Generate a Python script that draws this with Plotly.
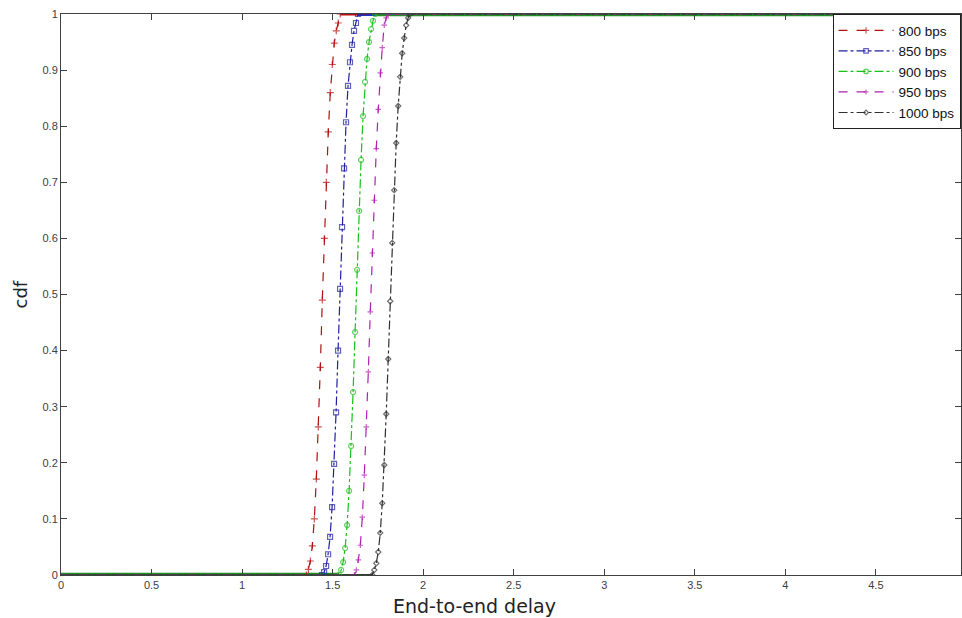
import plotly.graph_objects as go

# End-to-end delay (s) and CDF values
x_800 = [0.0, 1.355, 1.366, 1.377, 1.388, 1.399, 1.410, 1.421, 1.432, 1.443, 1.454, 1.465,
         1.476, 1.487, 1.498, 1.509, 1.520, 1.531, 1.542, 4.68]
y_800 = [0.0, 0.0, 0.010, 0.025, 0.052, 0.100, 0.171, 0.264, 0.370, 0.490, 0.600, 0.700,
         0.790, 0.860, 0.910, 0.948, 0.970, 0.984, 1.0, 1.0]

x_850 = [0.0, 1.442, 1.453, 1.464, 1.475, 1.486, 1.497, 1.508, 1.519, 1.530, 1.541, 1.552,
         1.563, 1.574, 1.585, 1.596, 1.607, 1.618, 1.629, 1.640, 4.68]
y_850 = [0.0, 0.0, 0.005, 0.016, 0.037, 0.068, 0.121, 0.198, 0.290, 0.400, 0.510, 0.620,
         0.725, 0.807, 0.872, 0.914, 0.945, 0.970, 0.984, 1.0, 1.0]

x_900 = [0.0, 1.536, 1.547, 1.558, 1.569, 1.580, 1.591, 1.602, 1.613, 1.624, 1.635, 1.646,
         1.657, 1.668, 1.679, 1.690, 1.701, 1.712, 1.723, 1.734, 4.68]
y_900 = [0.0, 0.0, 0.009, 0.023, 0.048, 0.089, 0.150, 0.230, 0.326, 0.433, 0.544, 0.649,
         0.740, 0.818, 0.879, 0.920, 0.950, 0.973, 0.988, 1.0, 1.0]

x_950 = [0.0, 1.620, 1.631, 1.642, 1.653, 1.664, 1.675, 1.686, 1.697, 1.708, 1.719, 1.730,
         1.741, 1.752, 1.763, 1.774, 1.785, 1.796, 1.807, 4.68]
y_950 = [0.0, 0.0, 0.009, 0.027, 0.053, 0.103, 0.178, 0.264, 0.362, 0.469, 0.574, 0.668,
         0.760, 0.830, 0.895, 0.940, 0.980, 0.993, 1.0, 1.0]

x_1000 = [0.0, 1.719, 1.730, 1.741, 1.752, 1.763, 1.774, 1.785, 1.796, 1.807, 1.818, 1.829,
          1.840, 1.851, 1.862, 1.873, 1.884, 1.895, 1.906, 1.917, 1.928, 4.68]
y_1000 = [0.0, 0.0, 0.009, 0.021, 0.041, 0.075, 0.128, 0.196, 0.287, 0.385, 0.488, 0.592,
          0.686, 0.770, 0.836, 0.888, 0.930, 0.957, 0.980, 0.993, 1.0, 1.0]

series_names = ["800 bps", "850 bps", "900 bps", "950 bps", "1000 bps"]
x_ticks = [0, 0.5, 1, 1.5, 2, 2.5, 3, 3.5, 4, 4.5]
x_tick_labels = ["0", "0.5", "1", "1.5", "2", "2.5", "3", "3.5", "4", "4.5"]
y_ticks = [0, 0.1, 0.2, 0.3, 0.4, 0.5, 0.6, 0.7, 0.8, 0.9, 1]
y_tick_labels = ["0", "0.1", "0.2", "0.3", "0.4", "0.5", "0.6", "0.7", "0.8", "0.9", "1"]

styles = [
    dict(color="#b01010", dash="dash", symbol="cross-thin-open", msize=5, band=3.0),
    dict(color="#2020a0", dash="dashdot", symbol="square-open", msize=5, band=4.0),
    dict(color="#18c018", dash="dashdot", symbol="circle-open", msize=5, band=4.5),
    dict(color="#b020b0", dash="dash", symbol="cross-thin-open", msize=4, band=2.0),
    dict(color="#303030", dash="dashdot", symbol="diamond-open", msize=4, band=1.8),
]
band_colors = ["#c01010", "#2030c0", "#1f8f1f", "#a020a0", "#2a4a2a"]

data = [(x_800, y_800), (x_850, y_850), (x_900, y_900), (x_950, y_950), (x_1000, y_1000)]

fig = go.Figure()

# dense-marker bands along the flat parts of each CDF
for (xs, ys), st, bc in zip(data, styles, band_colors):
    fig.add_trace(go.Scatter(x=xs[:2], y=ys[:2], mode="lines",
                             line=dict(color=bc, width=st["band"]),
                             showlegend=False, hoverinfo="skip", cliponaxis=False))
    fig.add_trace(go.Scatter(x=xs[-2:], y=ys[-2:], mode="lines",
                             line=dict(color=bc, width=st["band"]),
                             showlegend=False, hoverinfo="skip", cliponaxis=False))

for (xs, ys), st, name in zip(data, styles, series_names):
    sizes = [0] + [st["msize"]] * (len(xs) - 2) + [0]
    fig.add_trace(go.Scatter(
        x=xs, y=ys, mode="lines+markers", name=name,
        line=dict(color=st["color"], width=1.2, dash=st["dash"]),
        marker=dict(symbol=st["symbol"], size=sizes, color=st["color"],
                    line=dict(color=st["color"], width=1.2)),
    ))

axis_common = dict(
    showline=True, linecolor="#404040", linewidth=1, mirror="ticks",
    ticks="inside", ticklen=6, tickcolor="#404040",
    showgrid=False, zeroline=False, automargin=False, ticklabeloverflow="allow",
    tickfont=dict(family="Liberation Sans, Arial, sans-serif", size=11, color="#404040"),
)

fig.update_layout(
    width=962, height=618,
    margin=dict(l=61, r=1, t=14, b=43),
    paper_bgcolor="white", plot_bgcolor="white",
    xaxis=dict(range=[0, 4.97], tickvals=x_ticks, ticktext=x_tick_labels, **axis_common),
    yaxis=dict(range=[0, 1], tickvals=y_ticks, ticktext=y_tick_labels, **axis_common),
    legend=dict(x=0.9995, y=1.0, xanchor="right", yanchor="top",
                bgcolor="white", bordercolor="#202020", borderwidth=1,
                font=dict(family="Liberation Sans, Arial, sans-serif", size=13.5, color="#111"),
                tracegroupgap=0, itemwidth=55),
    showlegend=True,
    annotations=[
        dict(text="End-to-end delay", xref="paper", yref="paper", x=0.459, y=0,
             yshift=-31, xanchor="center", yanchor="middle", showarrow=False,
             font=dict(family="DejaVu Sans, Verdana, sans-serif", size=19, color="#222")),
        dict(text="cdf", xref="paper", yref="paper", x=0, y=0.5, xshift=-41,
             xanchor="center", yanchor="middle", textangle=-90, showarrow=False,
             font=dict(family="DejaVu Sans, Verdana, sans-serif", size=18, color="#222")),
    ],
)

# remove the default page margin so the 962x618 figure fills the window exactly
fig.write_html("out.html", config={"displayModeBar": False},
               post_script="document.body.style.margin='0';document.body.style.overflow='hidden';")
